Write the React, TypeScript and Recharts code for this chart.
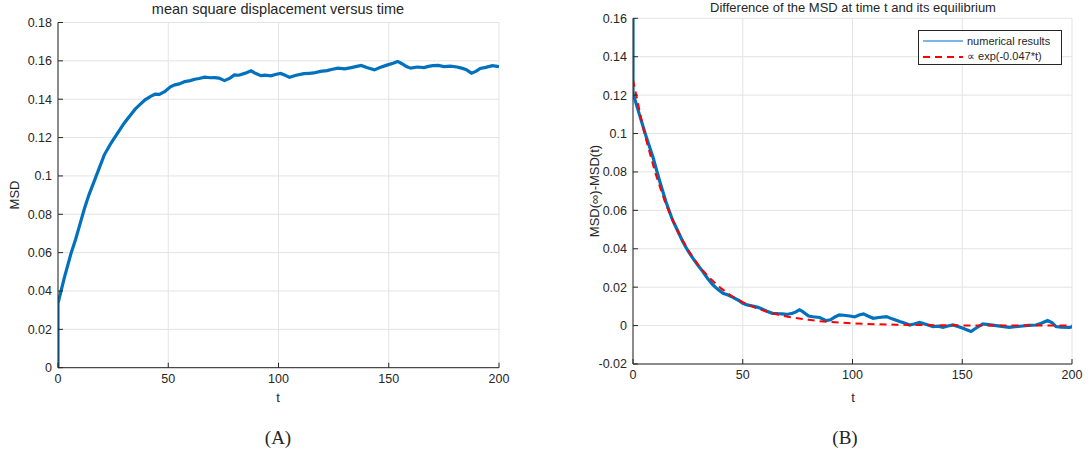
import React from 'react';
import {
    LineChart,
    Line,
    XAxis,
    YAxis,
    CartesianGrid,
} from 'recharts';

// panel A: mean square displacement
const tA = [
    0, 0, 3, 6, 8, 10, 12, 14, 17, 19, 21, 24, 26, 28, 30, 32, 35, 37, 39.5, 42, 44, 46, 48.5,
    51, 53, 55, 57.5, 60, 62, 64, 66.5, 69, 71, 73, 75.5, 78, 80, 82, 85, 87.5, 89.5, 92, 94,
    96.5, 99, 101, 103, 105, 108, 111.5, 114, 116, 119, 122, 124, 127, 130, 133, 135, 137.5,
    140, 143.5, 146, 149.5, 152, 154, 156, 158, 160, 163, 166, 168, 170, 172.5, 175, 178, 181,
    183, 185, 187.5, 189.5, 191.5, 194, 197, 200,
];
const msdA = [
    0, 0.0336, 0.0475, 0.06, 0.067, 0.075, 0.083, 0.09, 0.099, 0.105, 0.111, 0.117, 0.1205,
    0.124, 0.1275, 0.1305, 0.1348, 0.137, 0.1397, 0.1415, 0.1426, 0.1425, 0.144, 0.1465, 0.1475,
    0.148, 0.1492, 0.1497, 0.1504, 0.1508, 0.1515, 0.1512, 0.1513, 0.151, 0.1497, 0.151, 0.1527,
    0.1525, 0.1536, 0.1548, 0.1535, 0.1523, 0.1526, 0.1522, 0.153, 0.1534, 0.1525, 0.1514,
    0.1525, 0.1533, 0.1535, 0.1537, 0.1545, 0.1549, 0.1555, 0.1562, 0.1558, 0.1565, 0.157,
    0.1576, 0.1565, 0.1553, 0.1565, 0.1579, 0.1588, 0.1597, 0.1585, 0.157, 0.1562, 0.1568,
    0.1565, 0.1571, 0.1575, 0.1576, 0.157, 0.1572, 0.1568, 0.1562, 0.1555, 0.1536, 0.1545,
    0.156, 0.1566, 0.1575, 0.157,
];

// panel B: MSD(inf) - MSD(t)
const tB = [
    0, 0, 3, 6, 9, 12, 15, 18, 20.5, 22.7, 25, 27.3, 29.5, 31.8, 34, 36.4, 38.5, 41, 43, 45.5,
    48, 50, 52, 54.5, 57, 59, 61, 63.5, 66, 68, 70, 72.7, 74, 75.8, 77, 80, 82, 85, 88, 90, 92,
    94, 96, 98.8, 101, 103, 105, 107, 109.4, 112, 115.5, 118, 121.5, 124, 126, 128, 130.6, 133,
    136.7, 139, 141.2, 143.5, 145.8, 148, 150.3, 152, 154, 156, 159.4, 162, 165.5, 168, 171.5,
    174, 177.6, 180, 183.6, 186, 188.9, 191, 192.7, 195, 198.8, 200,
];
const diffB = [
    0.16, 0.121, 0.1096, 0.0984, 0.088, 0.0758, 0.0645, 0.055, 0.049, 0.0437, 0.039, 0.035,
    0.0315, 0.0281, 0.0245, 0.0212, 0.019, 0.0168, 0.016, 0.0147, 0.0132, 0.0116, 0.0108,
    0.0102, 0.0095, 0.0085, 0.0075, 0.0064, 0.0062, 0.0061, 0.0058, 0.0064, 0.007, 0.0082,
    0.0075, 0.005, 0.0046, 0.0042, 0.0026, 0.003, 0.0045, 0.0056, 0.0054, 0.005, 0.0045, 0.0055,
    0.0061, 0.005, 0.0038, 0.0042, 0.0047, 0.0035, 0.0021, 0.0012, 0.0003, 0.0008, 0.0016,
    0.0008, -0.0005, -0.0003, -0.0009, -0.0002, 0.0003, -0.0005, -0.0014, -0.0022, -0.0031,
    -0.0015, 0.0009, 0.0005, 0, -0.0004, -0.0009, -0.0006, -0.0002, 0.0001, 0.0003, 0.0012,
    0.0026, 0.0015, -0.0005, -0.0008, -0.001, -0.0006,
];

// fitted curve
const tFit = [
    0, 5, 10, 15, 20, 25, 30, 35, 40, 45, 50, 55, 60, 65, 70, 75, 80, 85, 90, 95, 100, 110, 120,
    130, 140, 150, 160, 170, 180, 190, 200,
];
const fitB = [
    0.128, 0.101, 0.08, 0.063, 0.05, 0.0395, 0.031, 0.0247, 0.0195, 0.0154, 0.0122, 0.0096,
    0.0076, 0.006, 0.0047, 0.0038, 0.003, 0.0023, 0.0019, 0.0015, 0.0012, 0.0007, 0.0005,
    0.0003, 0.0002, 0.0001, 0.0001, 0, 0, 0, 0,
];

const xTicks = [0, 50, 100, 150, 200];
const yTicksA = [0, 0.02, 0.04, 0.06, 0.08, 0.1, 0.12, 0.14, 0.16, 0.18];
const yTicksB = [-0.02, 0, 0.02, 0.04, 0.06, 0.08, 0.1, 0.12, 0.14, 0.16];

const msdData = tA.map((t, i) => ({ t, v: msdA[i] }));
const diffData = tB.map((t, i) => ({ t, v: diffB[i] }));
const fitData = tFit.map((t, i) => ({ t, v: fitB[i] }));

const FONT = '"Liberation Sans", Arial, sans-serif';
const INK = '#262626';
const GRID = '#e3e3e3';
const BLUE = '#0072bd';

const fmt = (v: number) => String(Number(v.toFixed(3)));
const tickStyle = { fill: INK, fontSize: 12.5, fontFamily: FONT };

// matlab style box: grid, inward ticks on all four sides
function axes(yTicks: number[], yDomain: [number, number], yWidth: number) {
    return [
        <CartesianGrid key="g" stroke={GRID} strokeWidth={1} />,
        <XAxis
            key="x"
            dataKey="t"
            type="number"
            domain={[0, 200]}
            ticks={xTicks}
            height={30}
            tick={tickStyle}
            tickSize={-5}
            tickMargin={11}
            axisLine={{ stroke: INK }}
            tickLine={{ stroke: INK }}
            allowDataOverflow
        />,
        <XAxis
            key="xt"
            xAxisId="top"
            orientation="top"
            type="number"
            domain={[0, 200]}
            ticks={xTicks}
            height={0}
            tick={false}
            tickSize={-5}
            axisLine={{ stroke: INK }}
            tickLine={{ stroke: INK }}
        />,
        <YAxis
            key="y"
            type="number"
            domain={yDomain}
            ticks={yTicks}
            width={yWidth}
            tickFormatter={fmt}
            tick={tickStyle}
            tickSize={-5}
            tickMargin={11}
            axisLine={{ stroke: INK }}
            tickLine={{ stroke: INK }}
            allowDataOverflow
        />,
        <YAxis
            key="yr"
            yAxisId="right"
            orientation="right"
            type="number"
            domain={yDomain}
            ticks={yTicks}
            width={0}
            tick={false}
            tickSize={-5}
            axisLine={{ stroke: INK }}
            tickLine={{ stroke: INK }}
        />,
    ];
}

const textBase: React.CSSProperties = {
    position: 'absolute',
    fontFamily: FONT,
    fontSize: 13,
    color: INK,
    whiteSpace: 'nowrap',
    lineHeight: 1,
};

export default function App() {
    return (
        <div style={{ position: 'absolute', left: 0, top: 0, width: 1088, height: 458, background: '#fff' }}>
            {/* panel A */}
            <div style={{ position: 'absolute', left: 0, top: 0 }}>
                <LineChart width={530} height={400} margin={{ top: 22.5, right: 31, bottom: 2.3, left: 0 }}>
                    {axes(yTicksA, [0, 0.18], 58)}
                    <Line
                        data={msdData}
                        dataKey="v"
                        stroke={BLUE}
                        strokeWidth={3.2}
                        dot={false}
                        isAnimationActive={false}
                    />
                </LineChart>
            </div>

            {/* panel B */}
            <div style={{ position: 'absolute', left: 560, top: 0 }}>
                <LineChart width={528} height={400} margin={{ top: 18.3, right: 16, bottom: 6, left: 0 }}>
                    {axes(yTicksB, [-0.02, 0.16], 73)}
                    <Line
                        data={diffData}
                        dataKey="v"
                        stroke={BLUE}
                        strokeWidth={3.2}
                        dot={false}
                        isAnimationActive={false}
                    />
                    <Line
                        data={fitData}
                        dataKey="v"
                        stroke="#ff0000"
                        strokeWidth={2}
                        strokeDasharray="7 5"
                        dot={false}
                        isAnimationActive={false}
                    />
                </LineChart>
            </div>

            {/* titles */}
            <div style={{ ...textBase, fontSize: 14.5, left: 278, top: 2, transform: 'translateX(-50%)' }}>
                mean square displacement versus time
            </div>
            <div style={{ ...textBase, left: 853, top: 1, transform: 'translateX(-50%)' }}>
                Difference of the MSD at time t and its equilibrium
            </div>

            {/* axis labels */}
            <div style={{ ...textBase, left: 278, top: 391, transform: 'translateX(-50%)' }}>t</div>
            <div style={{ ...textBase, left: 853, top: 391, transform: 'translateX(-50%)' }}>t</div>
            <div style={{ ...textBase, left: 14, top: 195, transform: 'translate(-50%, -50%) rotate(-90deg)' }}>MSD</div>
            <div style={{ ...textBase, left: 594, top: 191, transform: 'translate(-50%, -50%) rotate(-90deg)' }}>
                MSD(∞)-MSD(t)
            </div>

            {/* legend */}
            <div
                style={{
                    position: 'absolute',
                    left: 918,
                    top: 30,
                    width: 144,
                    height: 35,
                    border: `1px solid ${INK}`,
                    background: '#fff',
                    boxSizing: 'border-box',
                    fontFamily: FONT,
                    fontSize: 11,
                    color: INK,
                }}
            >
                <div style={{ position: 'absolute', left: 3, top: 4, display: 'flex', alignItems: 'center' }}>
                    <svg width={42} height={10}>
                        <line x1={1} y1={5} x2={41} y2={5} stroke="#4a9fdd" strokeWidth={1.3} />
                    </svg>
                    <span style={{ marginLeft: 3 }}>numerical results</span>
                </div>
                <div style={{ position: 'absolute', left: 3, top: 19, display: 'flex', alignItems: 'center' }}>
                    <svg width={42} height={10}>
                        <line x1={1} y1={5} x2={41} y2={5} stroke="#ff0000" strokeWidth={2} strokeDasharray="7 5" />
                    </svg>
                    <span style={{ marginLeft: 3 }}>∝ exp(-0.047*t)</span>
                </div>
            </div>

            {/* captions */}
            <div style={{ ...textBase, fontFamily: '"Liberation Serif", serif', fontSize: 19, left: 278, top: 428, transform: 'translateX(-50%)' }}>
                (A)
            </div>
            <div style={{ ...textBase, fontFamily: '"Liberation Serif", serif', fontSize: 19, left: 845, top: 428, transform: 'translateX(-50%)' }}>
                (B)
            </div>
        </div>
    );
}
